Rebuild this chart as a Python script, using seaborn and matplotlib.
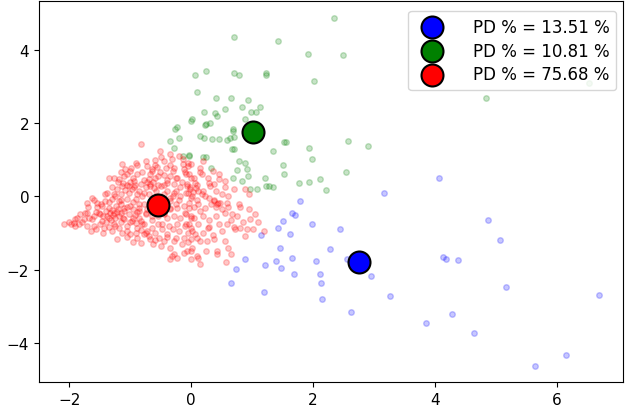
import numpy as np
import pandas as pd
import seaborn as sns
import matplotlib
matplotlib.use("Agg")
import matplotlib.pyplot as plt

#%% data
# red cluster, outer part
red_x = [-0.82, -0.51, -0.49, -0.35, -0.32, -0.14, -0.14, -1.13, -0.99, -1.09, -0.89, -0.72, -0.64, -0.56,
         -0.42, -0.28, -0.12, -0.05, -1.35, -1.26, -1.19, -1.05, -0.89, -0.67, -0.59, -0.45, -0.34, -0.23,
         -0.09, -0.01, -0.94, -0.78, -1.02, -0.94, -0.83, -0.67, -0.61, -0.49, -0.39, -0.28, -0.18, -0.07,
         -1.22, -1.13, -1.38, -1.27, -1.16, -1.02, -0.89, -0.78, -0.91, -1.05, -1.19, -1.30, -1.41, -0.28,
         -0.18, -0.09, -0.01, -0.34, -1.63, -1.54, -1.71, -1.46, -1.35, -1.24, -1.11, -1.00, -0.86, -0.78,
         -0.72, -0.34, -0.23, -0.12, -0.04, -1.82, -1.71, -1.57, -1.49, -1.38, -1.26, -1.16, -1.02, -0.89,
         -0.75, -0.64, -0.45, -0.28, -0.18, -0.09, -0.01, -1.87, -1.76, -1.63, -1.46, -1.32, -1.11, -0.97,
         -0.83, -2.09, -1.98, -1.93, -1.84, -1.71, -1.57, -1.43, -1.30, -1.19, -1.05, -0.89, -0.78, -0.64,
         -0.48, -0.37, -0.23, -0.09, -0.01, -1.27, -1.13, -1.00, -0.89, -0.75, -0.67, -0.53, -0.39, -0.28,
         -0.12, -0.01, -1.22, -0.83, -0.45, -0.34, -0.28, -0.12, -0.01,
         0.15, 0.18, 0.00, -0.04, 0.28, 0.37, 0.45, 0.56, 0.31, -0.07, 0.07, -0.02, 0.12, 0.23, 0.37, 0.42,
         0.48, 0.59, 0.50, 0.61, 0.01, -0.04, 0.12, 0.23, 0.67, 0.56, 0.89, 0.78, 1.05, 0.97, 0.45, 0.59,
         0.72, 0.80, 0.91, 1.02, 0.89, 0.28, 0.12, 0.01, 0.07, -0.04, 0.15, 0.26, 0.37, 0.56, 0.01, 0.42,
         -0.07, 0.09,
         -0.31, -0.23, -0.01, 0.11, 0.15, 0.57, 0.42, 0.66]
red_y = [1.42, 1.24, 1.06, 1.15, 1.01, 1.01, 0.87, 0.89, 0.78, 0.74, 0.86, 0.83, 0.74, 0.80,
         0.78, 0.78, 0.74, 0.83, 0.51, 0.51, 0.46, 0.60, 0.60, 0.60, 0.51, 0.58, 0.56, 0.51,
         0.60, 0.51, 0.42, 0.44, 0.28, 0.24, 0.33, 0.33, 0.22, 0.28, 0.35, 0.33, 0.26, 0.28,
         0.19, 0.28, 0.10, 0.05, 0.05, 0.10, 0.05, 0.10, -0.08, -0.08, -0.13, -0.08, -0.13, 0.10,
         0.01, 0.10, -0.04, -0.13, -0.04, -0.17, -0.17, -0.26, -0.31, -0.26, -0.31, -0.26, -0.31, -0.22,
         -0.36, -0.31, -0.31, -0.26, -0.31, -0.49, -0.47, -0.42, -0.49, -0.54, -0.47, -0.45, -0.49, -0.42,
         -0.49, -0.54, -0.49, -0.54, -0.60, -0.49, -0.58, -0.58, -0.63, -0.63, -0.67, -0.66, -0.63, -0.67,
         -0.67, -0.77, -0.77, -0.72, -0.77, -0.81, -0.90, -0.86, -0.95, -0.86, -0.81, -0.86, -0.77, -0.86,
         -0.77, -0.81, -0.75, -0.77, -0.86, -0.77, -0.99, -1.04, -1.13, -0.99, -1.17, -1.13, -1.04, -1.22,
         -1.13, -1.17, -1.17, -1.27, -1.22, -1.40, -1.58, -1.54, -1.49,
         0.78, 0.60, 0.87, 0.60, 0.51, 0.33, 0.46, 0.42, 0.28, 0.33, 0.37, 0.19, 0.15, 0.01, -0.13, -0.22,
         -0.17, -0.17, 0.05, 0.01, 0.01, -0.17, -0.22, -0.31, -0.49, -0.45, 0.19, -0.22, -0.49, -0.63, -0.77, -0.77,
         -0.90, -0.87, -0.90, -0.90, -1.08, -0.86, -0.77, -0.95, -1.04, -0.77, -1.22, -1.22, -1.17, -1.22, -1.40, -1.49,
         -1.49, -1.63,
         -1.63, -1.69, -1.72, -1.69, -1.84, -1.80, -1.58, -1.58]

# red cluster, dense core
red_core_x = [-1.30, -1.22, -1.28, -1.20, -1.33, -1.18, -1.25, -1.40, -1.45, -1.10, -1.12,
              -1.05, -0.98, -1.08, -0.92, -1.00, -1.12,
              -0.72, -0.68, -0.75, -0.62, -0.55, -0.58, -0.70,
              -0.95, -0.90, -1.00, -0.85, -0.92,
              -0.78, -0.72, -0.70, -0.60, -0.82,
              -0.02, 0.03, 0.08, -0.05, 0.10, 0.18,
              0.38, 0.44, 0.33, 0.40, 0.30,
              -1.55, -1.60, -1.68, -1.50, -1.40, -1.35, -1.25, -1.15, -0.95, -0.85, -0.80, -0.65,
              -0.50, -0.45, -0.35, -0.20, -0.25, -0.15, -0.40, -0.52, -0.30, -0.80, -0.95, -1.15,
              -0.65, -0.55, -0.40, -0.30, -0.20, -0.05, 0.05, 0.20, 0.30, 0.15, -0.10, -0.50,
              -0.62, -0.15, 0.20, 0.35, 0.50, 0.65, 0.75, 0.70, 0.55, 0.45, 0.35, 0.20, -0.20,
              -0.45, -0.60, 0.80, 0.95, 1.10, 1.20, 0.60, 0.25, -0.35, -1.05, -0.95, -1.45,
              -1.65, -1.90, -2.00,
              -1.75, -1.80, -1.60, -1.52, -1.48, -1.42, -1.30, -1.20, -1.10, -1.00, -0.90, -0.75,
              -0.65, -0.55, -0.45, -0.40, -0.30, -0.25, -0.35, -0.45, -0.55, -0.65, -0.75, -0.85,
              -0.95, -1.05, -1.15, -1.25, -1.35, -1.05, -0.90, -0.60, -0.40, -0.25, -0.10, 0.00,
              0.05, 0.10, 0.20, 0.30, 0.40, 0.50, 0.60, 0.40, 0.30, 0.10, -0.05, 0.05, 0.15,
              -0.10, -0.25, -0.05, -0.35, -0.60, -0.85, -0.70, -0.55, -1.60, -1.70, -1.90, -1.35,
              -1.15, -0.80, -0.48, 0.70, 0.85, 0.95]
red_core_y = [-0.38, -0.42, -0.50, -0.35, -0.45, -0.55, -0.60, -0.40, -0.55, -0.40, -0.58,
              0.30, 0.20, 0.18, 0.32, 0.38, 0.35,
              0.38, 0.28, 0.25, 0.40, 0.32, 0.15, 0.48,
              -0.60, -0.72, -0.70, -0.58, -0.50,
              -1.02, -0.95, -1.08, -1.00, -0.92,
              0.25, 0.12, 0.22, 0.08, 0.30, 0.05,
              -0.10, -0.18, -0.20, -0.28, -0.05,
              -0.30, -0.55, -0.60, -0.75, -0.70, -0.15, 0.00, -0.20, -0.15, -0.20, 0.00, -0.10,
              -0.05, 0.05, -0.05, -0.10, 0.15, 0.40, 0.45, 0.65, 0.70, 0.65, 0.50, 0.65,
              -0.65, -0.75, -0.60, -0.90, -0.95, -1.00, -0.60, -0.55, -0.65, -0.40, -0.45, -1.35,
              -1.30, -1.30, -1.00, -1.05, -0.95, -0.65, -0.55, 0.20, 0.25, 0.60, 0.70, 0.95, 1.10,
              0.95, 1.00, -0.30, -0.35, -0.70, -0.95, -1.40, -1.50, -1.70, -1.10, -1.25, -1.00,
              -0.95, -0.62, -0.70,
              -0.45, -0.70, -0.80, -0.45, -0.20, 0.05, 0.25, 0.40, 0.55, 0.70, 0.90, 0.95,
              0.70, 0.55, 0.30, 0.15, 0.00, -0.20, -0.35, -0.45, -0.55, -0.40, -0.45, -0.40,
              -0.35, -0.30, -0.70, -0.80, -0.85, -0.95, -1.00, -1.20, -1.10, -1.15, -0.80, -0.55,
              -0.30, -0.10, 0.15, 0.35, 0.15, -0.35, -0.30, -0.55, -0.85, -1.15, -1.25, 0.50, 0.65,
              0.65, 0.50, 0.90, 0.85, 0.85, 0.15, 0.05, -0.15, -0.10, -0.30, -0.80, -0.60,
              -0.10, -0.75, -0.90, -0.85, -0.70, 0.05]

green_x = [2.34, 0.71, 1.42, 1.91, 0.07, 0.24, 0.71, 0.79, 1.23, 1.23, 2.01, 0.10, 0.40, 0.65, 0.94,
           1.13, 0.84, 0.55, 0.99, 1.07, 0.21, 0.39, 0.42, 0.89, 0.02, -0.01, 0.31, 0.23, 0.69, -0.24,
           2.50, 4.84, 6.54, 2.57, 2.91, 2.54,
           0.24, 0.15, 0.21, 0.34, 0.46, 0.59, 0.63, 0.71, 0.68, -0.04, 0.19, 0.25, 0.67, 0.71, 1.52,
           1.56, 1.34, 1.93, 1.99, 0.79, 0.89, 1.50, 0.32, 0.75, 0.91, 1.53, 0.68, 0.84, 0.94, 1.22,
           1.23, 1.27, 1.35, 0.96, 1.08, 1.77, 1.94, 2.12, 2.22,
           -0.26, -0.34, -0.20, -0.28, -0.14, -0.04]
green_y = [4.88, 4.36, 4.25, 3.89, 3.31, 3.42, 3.36, 3.31, 3.36, 3.30, 3.14, 2.85, 2.69, 2.67, 2.62,
           2.45, 2.44, 2.39, 2.31, 2.29, 2.30, 2.26, 2.18, 2.11, 2.12, 2.06, 2.01, 1.95, 1.85, 1.89,
           3.85, 2.67, 3.08, 1.51, 1.37, 0.66,
           1.97, 1.65, 1.58, 1.56, 1.56, 1.54, 1.60, 1.62, 1.78, 1.10, 1.08, 1.08, 1.28, 1.28, 1.47,
           1.49, 1.24, 1.33, 1.01, 0.97, 0.90, 0.86, 0.77, 0.71, 0.74, 0.60, 0.49, 0.42, 0.54, 0.49,
           0.28, 0.27, 0.24, 0.19, 0.19, 0.36, 0.40, 0.46, 0.16,
           1.83, 1.51, 1.58, 1.33, 1.10, 1.12]

blue_x = [1.78, 1.65, 1.70, 1.50, 1.98, 1.42, 1.15, 1.62, 2.44, 1.46, 2.28, 0.88, 0.73, 0.66, 1.22,
          1.39, 1.48, 1.65, 1.69, 1.20, 2.05, 2.11, 2.13, 2.15, 4.07, 3.17, 4.87, 2.56, 2.95, 3.27,
          2.63, 4.13, 4.19, 4.38, 4.29, 3.85, 4.64, 5.17, 6.70, 6.16, 5.65, 5.07]
blue_y = [-0.14, -0.45, -0.52, -0.67, -0.75, -0.87, -1.07, -1.03, -0.88, -1.40, -1.45, -1.71, -1.98, -2.36, -1.88,
          -1.76, -1.95, -1.68, -2.13, -2.61, -1.77, -2.12, -2.36, -2.81, 0.51, 0.10, -0.66, -1.71, -2.18, -2.72,
          -3.17, -1.66, -1.70, -1.73, -3.22, -3.45, -3.72, -2.49, -2.70, -4.34, -4.64, -1.19]

centre_x = [2.75, 1.02, -0.54]
centre_y = [-1.80, 1.75, -0.25]
cluster_colors = ['blue', 'green', 'red']
pd_share = [13.51, 10.81, 75.68]

#%% plot
points = pd.concat([
    pd.DataFrame({'x': blue_x, 'y': blue_y, 'cluster': 'blue'}),
    pd.DataFrame({'x': green_x, 'y': green_y, 'cluster': 'green'}),
    pd.DataFrame({'x': red_x + red_core_x, 'y': red_y + red_core_y, 'cluster': 'red'})])

fig, ax = plt.subplots(figsize=(6.28, 4.10), dpi=100)
plt.subplots_adjust(left=0.062, right=0.992, top=0.995, bottom=0.065)

for col in cluster_colors:
    sub = points[points.cluster == col]
    sns.scatterplot(data=sub, x='x', y='y', color=col, alpha=0.22, s=16,
                    edgecolor=col, linewidth=1, ax=ax, legend=False)

for cx, cy, col, share in zip(centre_x, centre_y, cluster_colors, pd_share):
    ax.scatter(cx, cy, s=250, c=col, edgecolors='black', linewidths=1.5, zorder=5,
               label='PD %% = %.2f %%' % share)

ax.set_xlim(-2.5, 7.09)
ax.set_ylim(-5.08, 5.33)
ax.set_xticks([-2, 0, 2, 4, 6])
ax.set_yticks([-4, -2, 0, 2, 4])
ax.set_xlabel('')
ax.set_ylabel('')
ax.tick_params(labelsize=11)
ax.legend(loc='upper right', fontsize=12, borderaxespad=0,
          bbox_to_anchor=(1 - 7 / 584, 1 - 10 / 381),
          labelspacing=0.35, handletextpad=1.45)

plt.savefig('out.png', dpi=100)
